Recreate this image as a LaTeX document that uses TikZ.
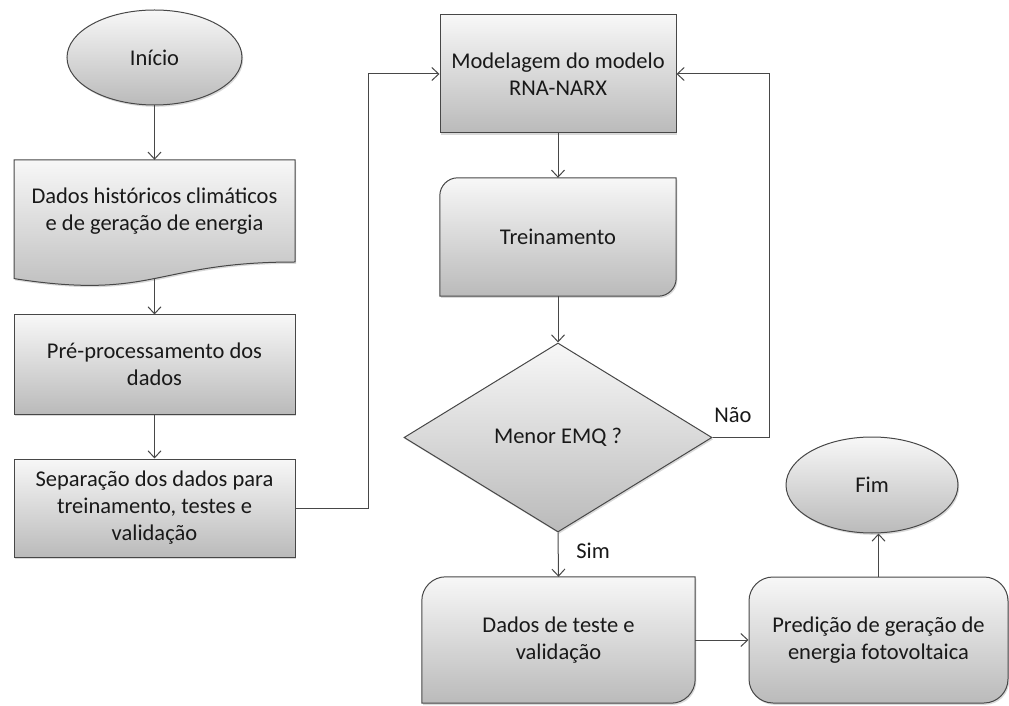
\documentclass[tikz,border=0pt]{standalone}
\usepackage{fontspec}
\setmainfont{Carlito}
\usetikzlibrary{shapes.geometric, arrows.meta, shadows}
\pgfdeclarelayer{bg}
\pgfsetlayers{bg,main}

% box with two opposite rounded corners (top left, bottom right)
\newcommand\diagshape[2]{%
  \path[flow] (#1.south west) -- ([yshift=-#2]#1.north west)
    arc[start angle=180, end angle=90, radius=#2] -- (#1.north east)
    -- ([yshift=#2]#1.south east)
    arc[start angle=0, end angle=-90, radius=#2] -- cycle;}

\begin{document}
\begin{tikzpicture}[x=1pt, y=1pt,
  flow/.style={draw=black!72, line width=1pt, top color=black!3, bottom color=black!27,
    drop shadow={shadow xshift=1.2pt, shadow yshift=-1.8pt, opacity=0.3}},
  lbl/.style={font=\fontsize{22.5}{27}\selectfont, text=black!90, align=center},
  boxnode/.style={lbl, rectangle, inner sep=0pt},
  arr/.style={draw=black!72, line width=1pt, -{Straight Barb[length=7pt,width=13pt]}},
]
\useasboundingbox (0,0) rectangle (1009,705);

% left column
\node[flow, lbl, ellipse, inner sep=0pt, minimum width=175, minimum height=95] (inicio) at (154.5,647.5) {Início};

\path[flow] (14,545) -- (295,545) -- (295,443)
  .. controls (154.5,443) and (154.5,404.4) .. (14,426.4) -- cycle;
\node[boxnode, minimum width=281, minimum height=102] (dados) at (154.5,494) {Dados históricos climáticos\\e de geração de energia};
\coordinate (dadosbase) at (154.5,426.5);

\node[flow, boxnode, minimum width=281, minimum height=99] (pre) at (154.5,340.5) {Pré-processamento dos\\dados};
\node[flow, boxnode, minimum width=281, minimum height=98] (sep) at (154.5,197) {Separação dos dados para\\treinamento, testes e\\validação};

% middle column
\node[flow, boxnode, minimum width=236, minimum height=118] (modelagem) at (558,631) {Modelagem do modelo\\RNA-NARX};
\node[boxnode, minimum width=236, minimum height=118] (treino) at (558,468) {Treinamento};
\node[flow, lbl, diamond, aspect=1.63, inner sep=0pt, minimum width=308, minimum height=189] (menor) at (558,267.5) {Menor EMQ ?};
\node[boxnode, minimum width=273, minimum height=126] (teste) at (558.5,65) {Dados de teste e\\validação};

% right column
\node[flow, boxnode, rounded corners=24pt, minimum width=259, minimum height=126] (predicao) at (878.5,65) {Predição de geração de\\energia fotovoltaica};
\node[flow, lbl, ellipse, inner sep=0pt, minimum width=172, minimum height=96] (fim) at (872,220) {Fim};

\begin{pgfonlayer}{bg}
  \diagshape{treino}{18pt}
  \diagshape{teste}{24pt}
\end{pgfonlayer}

% connectors
\draw[arr] (inicio.south) -- (dados.north);
\draw[arr] (dadosbase) -- (pre.north);
\draw[arr] (pre.south) -- (sep.north);
\draw[arr] (sep.east) -- ++(73,0) |- (modelagem.west);
\draw[arr] (modelagem.south) -- (treino.north);
\draw[arr] (treino.south) -- (menor.north);
\draw[arr] (menor.east) -- ++(57,0) |- (modelagem.east);
\draw[arr] (menor.south) -- (teste.north);
\draw[arr] (teste.east) -- (predicao.west);
\draw[arr] (predicao.north) -- (predicao.north |- fim.south);

\node[lbl] (nao) at (733,290) {Não};
\node[lbl] (sim) at (593,154) {Sim};
\end{tikzpicture}
\end{document}
